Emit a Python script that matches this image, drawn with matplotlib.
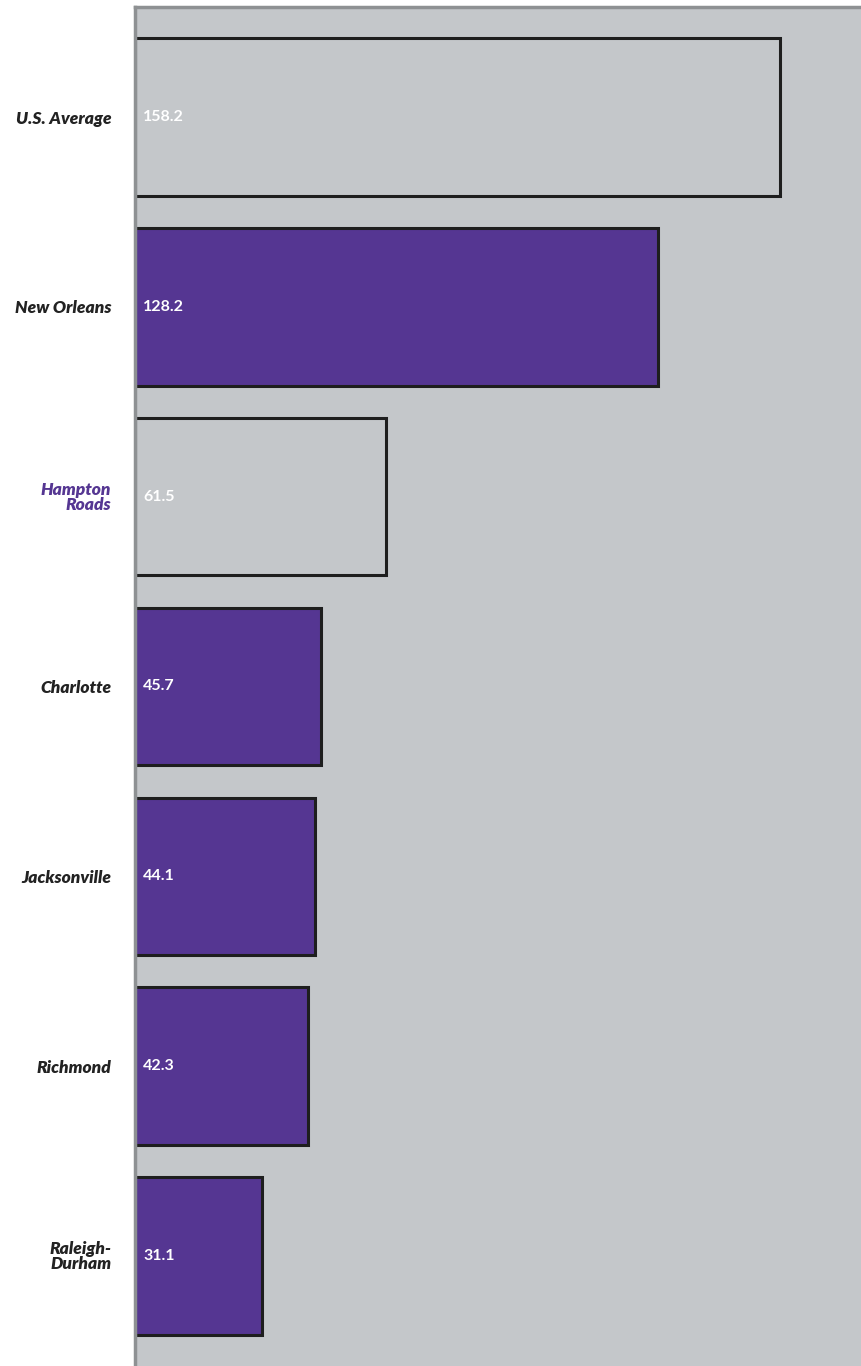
import matplotlib.pyplot as plt
import numpy as np

cities = ['U.S. Average', 'New Orleans', 'Hampton\nRoads', 'Charlotte',
          'Jacksonville', 'Richmond', 'Raleigh-\nDurham']
values = [158.2, 128.2, 61.5, 45.7, 44.1, 42.3, 31.1]
hollow = [True, False, True, False, False, False, False]

purple = '#553692'
panel = '#c4c7ca'

plt.rcParams['font.family'] = ['Lato', 'DejaVu Sans']

fig = plt.figure(figsize=(8.61, 13.66), dpi=100)
ax = fig.add_axes([135 / 861, 0, 1 - 135 / 861, 1 - 7 / 1366])
ax.set_facecolor(panel)

y = np.arange(len(cities))
colors = [panel if h else purple for h in hollow]
ax.barh(y, values, height=0.83, color=colors, edgecolor='#1e1e1e', linewidth=2.2, zorder=2)

for yi, v in zip(y, values):
    ax.text(2, yi, f'{v:.1f}', color='white', fontsize=11.5, fontweight='bold',
            ha='left', va='center', zorder=3)

ax.set_xlim(0, 178)
ax.set_ylim(len(cities) - 1 + 0.58, -0.58)

ax.set_yticks(y)
ax.set_yticklabels(cities, fontsize=12.5, fontweight='heavy', style='italic',
                   linespacing=0.9)
for lbl in ax.get_yticklabels():
    lbl.set_multialignment('right')
    if lbl.get_text().startswith('Hampton'):
        lbl.set_color(purple)
    else:
        lbl.set_color('#222222')
ax.tick_params(axis='y', length=0, pad=17)
ax.set_xticks([])

for side in ['right', 'bottom']:
    ax.spines[side].set_visible(False)
ax.spines['left'].set_color('#8e9193')
ax.spines['left'].set_linewidth(2.5)
ax.spines['top'].set_color('#8e9193')
ax.spines['top'].set_linewidth(2.5)

fig.savefig('out.png', dpi=100)
